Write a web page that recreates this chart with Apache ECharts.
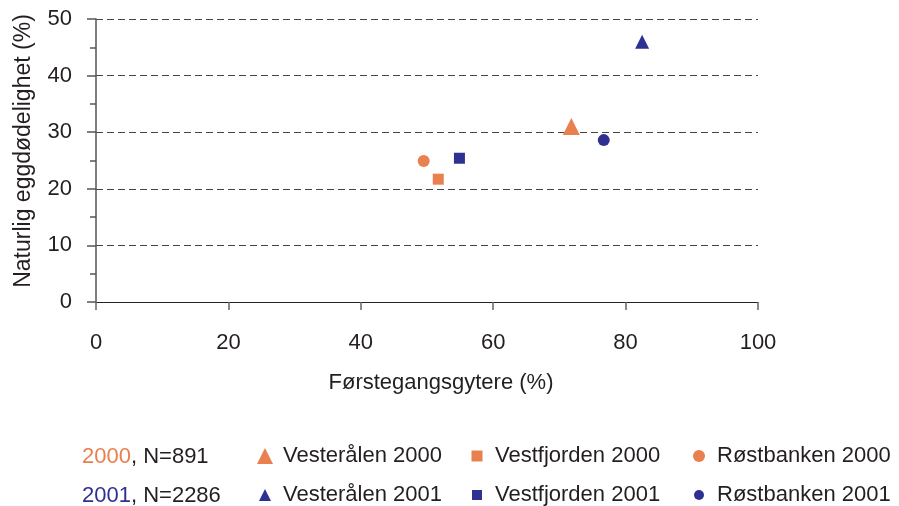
<!DOCTYPE html>
<html>
<head>
<meta charset="utf-8">
<script src="https://cdn.jsdelivr.net/npm/echarts@6/dist/echarts.min.js"></script>
<style>
  html, body { margin: 0; padding: 0; background: #fff; }
  #chart { width: 899px; height: 506px; }
</style>
</head>
<body>
<div id="chart"></div>
<script>
// series names and values [x = førstegangsgytere %, y = eggdødelighet %]
const names = ['Vesterålen 2000', 'Vestfjorden 2000', 'Røstbanken 2000',
               'Vesterålen 2001', 'Vestfjorden 2001', 'Røstbanken 2001'];
const vesteralen2000 = [[71.8, 31.0]];
const vestfjorden2000 = [[51.7, 21.7]];
const rostbanken2000 = [[49.5, 24.9]];
const vesteralen2001 = [[82.5, 46.0]];
const vestfjorden2001 = [[54.9, 25.4]];
const rostbanken2001 = [[76.7, 28.6]];
const xTicks = [0, 20, 40, 60, 80, 100];
const yTicks = [0, 10, 20, 30, 40, 50];

const ORANGE = '#E8804F';
const BLUE = '#2E3192';
const TXT = '#231F20';
const FONT = 'Liberation Sans, Arial, sans-serif';

const seriesDefs = [
    {name: names[0], data: vesteralen2000,  symbol: 'triangle', size: 17, color: ORANGE},
    {name: names[1], data: vestfjorden2000, symbol: 'rect',     size: 11, color: ORANGE},
    {name: names[2], data: rostbanken2000,  symbol: 'circle',   size: 12, color: ORANGE},
    {name: names[3], data: vesteralen2001,  symbol: 'triangle', size: 14, color: BLUE},
    {name: names[4], data: vestfjorden2001, symbol: 'rect',     size: 11, color: BLUE},
    {name: names[5], data: rostbanken2001,  symbol: 'circle',   size: 12, color: BLUE}
];

// one legend per item so they line up in columns
const legendCols = [257, 469, 691];
const legendRows = [458, 497];
const legendIcon = [[16, 11, 12], [12, 10, 10]];
const legends = seriesDefs.map(function(s, i) {
    const row = Math.floor(i / 3), col = i % 3;
    const sz = legendIcon[row][col];
    return {
        data: [s.name],
        left: legendCols[col] + (16 - sz) / 2,
        top: legendRows[row] - 13,
        itemWidth: sz,
        itemHeight: sz,
        padding: 0,
        selectedMode: false,
        itemStyle: {opacity: 1},
        textStyle: {
            fontFamily: FONT, fontSize: 22, color: TXT,
            padding: [0, 0, 0, 21 - sz - (16 - sz) / 2]
        }
    };
});

const chart = echarts.init(document.getElementById('chart'));
chart.setOption({
    animation: false,
    backgroundColor: '#fff',
    grid: {left: 96, right: 141, top: 19, bottom: 204},
    xAxis: {
        type: 'value', min: 0, max: 100, interval: 20,
        name: 'Førstegangsgytere (%)', nameLocation: 'middle', nameGap: 70,
        nameTextStyle: {fontFamily: FONT, fontSize: 22, color: TXT, padding: [0, 0, 0, 28]},
        axisLine: {show: true, lineStyle: {color: '#222', width: 1.2}},
        axisTick: {show: true, length: 8, lineStyle: {color: '#666', width: 1.5}},
        axisLabel: {
            margin: 30, fontFamily: FONT, fontSize: 22, color: TXT,
            formatter: function(v) { return xTicks.indexOf(v) >= 0 ? String(v) : ''; }
        },
        splitLine: {show: false}
    },
    yAxis: {
        type: 'value', min: 0, max: 50, interval: 10,
        name: 'Naturlig eggdødelighet (%)', nameLocation: 'middle', nameGap: 61,
        nameRotate: 90,
        nameTextStyle: {fontFamily: FONT, fontSize: 23, color: TXT, padding: [0, 0, 0, 19]},
        axisLine: {show: true, lineStyle: {color: '#555', width: 1.5}},
        axisTick: {show: true, length: 9, lineStyle: {color: '#555', width: 1.5}},
        minorTick: {show: true, splitNumber: 2, length: 6, lineStyle: {color: '#555', width: 1.5}},
        axisLabel: {
            margin: 24, fontFamily: FONT, fontSize: 22, color: TXT,
            formatter: function(v) { return yTicks.indexOf(v) >= 0 ? String(v) : ''; }
        },
        splitLine: {show: true, lineStyle: {color: '#444', type: [7, 4], width: 1.2}}
    },
    legend: legends,
    graphic: [
        {
            type: 'text', left: 82, top: 446,
            style: {
                text: '{o|2000}, N=891',
                font: '22px ' + FONT, fill: TXT,
                rich: {o: {fill: ORANGE, fontSize: 22, fontFamily: FONT}}
            }
        },
        {
            type: 'text', left: 82, top: 485,
            style: {
                text: '{b|2001}, N=2286',
                font: '22px ' + FONT, fill: TXT,
                rich: {b: {fill: BLUE, fontSize: 22, fontFamily: FONT}}
            }
        }
    ],
    series: seriesDefs.map(function(s) {
        return {
            name: s.name, type: 'scatter', data: s.data,
            symbol: s.symbol, symbolSize: s.size,
            itemStyle: {color: s.color, opacity: 1}
        };
    })
});
</script>
</body>
</html>
